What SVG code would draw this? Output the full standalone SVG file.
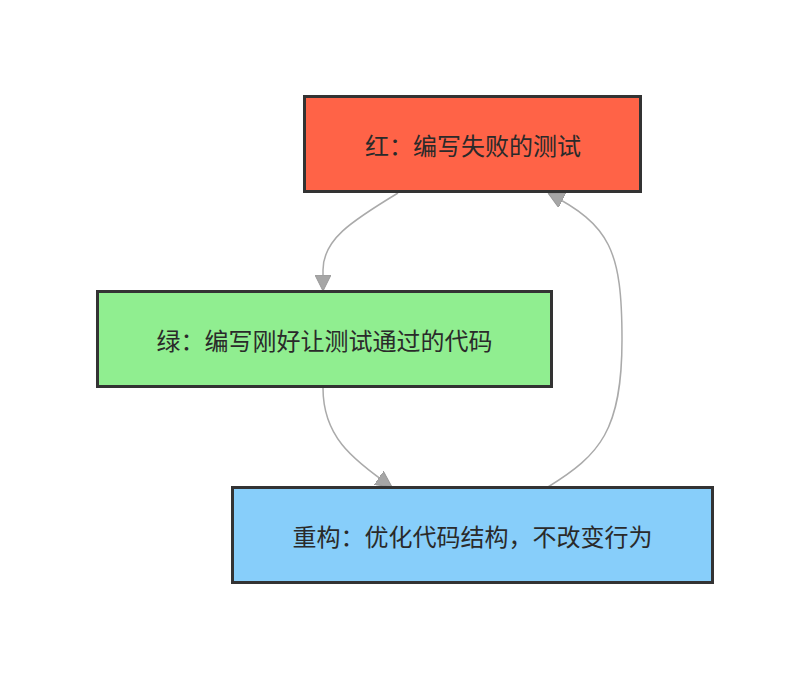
<svg xmlns="http://www.w3.org/2000/svg" width="809" height="680" viewBox="0 0 809 680">
<style>
.box{stroke:#333;stroke-width:3}
.lbl{font-family:"Noto Sans CJK SC","Noto Sans",sans-serif;font-size:24px;fill:#2a2a2a;text-anchor:middle;dominant-baseline:central}
.edge{fill:none;stroke:#aaa;stroke-width:1.5}
</style>
<defs>
<marker id="arr" viewBox="0 0 16 16" refX="16" refY="8" markerWidth="16" markerHeight="16" markerUnits="userSpaceOnUse" orient="auto">
<path d="M0,0 L16,8 L0,16 Z" fill="#a6a6a6" stroke="#999" stroke-width="1"/>
</marker>
</defs>
<rect width="809" height="680" fill="#fff"/>
<g id="edges">
<path class="edge" d="M398,193 C350,222 323,240 323,270 L323,291" marker-end="url(#arr)"/>
<path class="edge" d="M323,388 C323,435 350,458 392,487" marker-end="url(#arr)"/>
<path class="edge" d="M548,487 C600,455 622,430 622,340 C622,250 610,225 548,193" marker-end="url(#arr)"/>
</g>
<g id="red">
<rect class="box" x="304.5" y="96.5" width="336" height="95" fill="#FF6347"/>
<text class="lbl" x="473" y="144">红：编写失败的测试</text>
</g>
<g id="green">
<rect class="box" x="97.5" y="291.5" width="454" height="95" fill="#90EE90"/>
<text class="lbl" x="324.5" y="339">绿：编写刚好让测试通过的代码</text>
</g>
<g id="blue">
<rect class="box" x="232.5" y="487.5" width="480" height="95" fill="#87CEFA"/>
<text class="lbl" x="472.5" y="535">重构：优化代码结构，不改变行为</text>
</g>
</svg>
